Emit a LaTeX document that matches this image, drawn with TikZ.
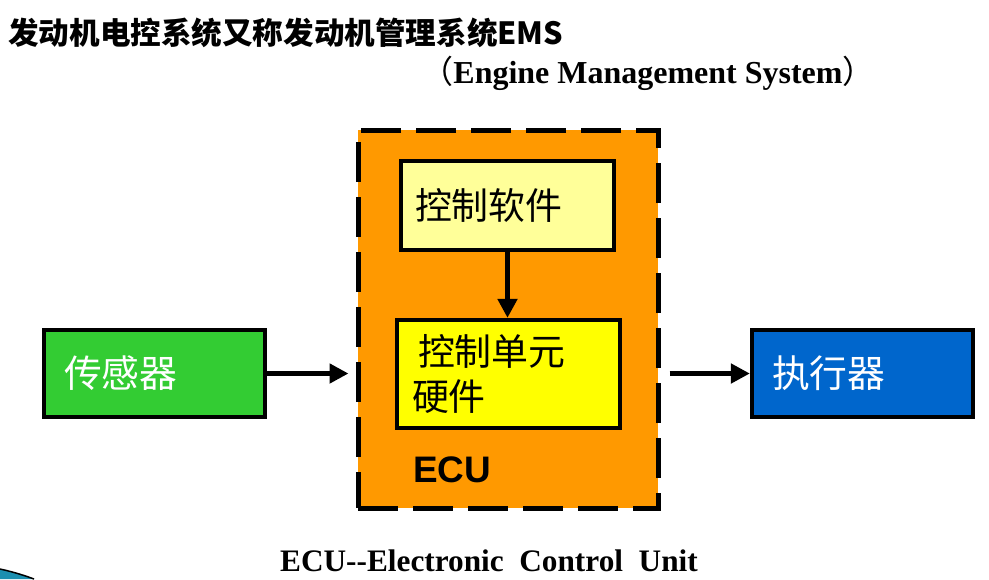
\documentclass[tikz,border=0pt]{standalone}
\usepackage{fontspec}
\setmainfont{Liberation Serif}
\newfontfamily\cjk{Noto Sans CJK SC}
\newfontfamily\arial{Liberation Sans}
\usetikzlibrary{arrows.meta, positioning}
\definecolor{ecuorange}{HTML}{FF9900}
\definecolor{softyellow}{HTML}{FFFF99}
\definecolor{hwyellow}{HTML}{FFFF00}
\definecolor{sensgreen}{HTML}{33CC33}
\definecolor{actblue}{HTML}{0066CC}
\definecolor{swoosh}{HTML}{1B8FB0}

\begin{document}
\begin{tikzpicture}[
		x=0.2mm, y=-0.2mm,
		>={Triangle[length=3.8mm,width=3.8mm]},
		every node/.style={inner sep=0pt},
		box/.style={draw, rectangle, line width=0.85mm, minimum height=17.4mm, minimum width=44.2mm, text width=36.2mm, inner xsep=4mm, align=left, font=\cjk\fontsize{21.5}{25}\selectfont},
		ecubox/.style={draw, rectangle, line width=1mm, dash pattern=on 8mm off 3mm, fill=ecuorange, minimum width=60mm, minimum height=75.6mm},
		flow/.style={->, line width=1mm},
		caption/.style={font=\bfseries\fontsize{17.8}{20}\selectfont}
		]
		\useasboundingbox (0,0) rectangle (989,579);
		
		% --- Headings ---
		\node[anchor=west, font=\cjk\bfseries\fontsize{17.4}{20}\selectfont] (title) at (8,33) {发动机电控系统又称发动机管理系统EMS};
		\node[caption, font=\bfseries\fontsize{18.2}{20}\selectfont] (subtitle) at (648,73) {{\cjk\mdseries （}Engine Management System{\cjk\mdseries ）}};
		
		% --- ECU with its two parts ---
		\node[ecubox] (ecu) at (508,319) {};
		\node[box, fill=softyellow, minimum height=17.8mm, minimum width=42.6mm, text width=37mm, inner xsep=2.8mm, font=\cjk\fontsize{21}{25}\selectfont] (soft) at (507.5,205.5) {控制软件};
		\node[box, fill=hwyellow, minimum height=21.6mm, minimum width=44.6mm, text width=38.6mm, inner xsep=3mm, font=\cjk\fontsize{21}{25.5}\selectfont] (hw) at (508.5,374) {\hspace{1.2mm}控制单元\\硬件};
		\node[anchor=west, font=\arial\bfseries\fontsize{21}{24}\selectfont] (ecutag) at (413,470) {ECU};
		
		% --- Sensors and actuators ---
		\node[box, fill=sensgreen, text=white] (sensor) at (154.5,373.5) {传感器};
		\node[box, fill=actblue, text=white] (act) at (862.5,373.5) {执行器};
		
		% --- Signal flow ---
		\draw[flow, shorten >=1.4mm] (sensor.east) -- (sensor.east -| ecu.west);
		\draw[flow] (soft.south) -- (soft.south |- hw.north);
		\draw[flow, shorten <=1.8mm] (act.west -| ecu.east) -- (act.west);
		
		% --- Caption ---
		\node[caption] (expl) at (489,561) {ECU-{}-Electronic\ \ Control\ \ Unit};
		
		% --- Slide corner ---
		\fill[swoosh] (0,569) .. controls (14,572) and (26,576) .. (34,579) -- (0,579) -- cycle;
		\draw[line width=0.3mm] (0,569) .. controls (14,572) and (26,576) .. (34,579);
	\end{tikzpicture}
\end{document}
